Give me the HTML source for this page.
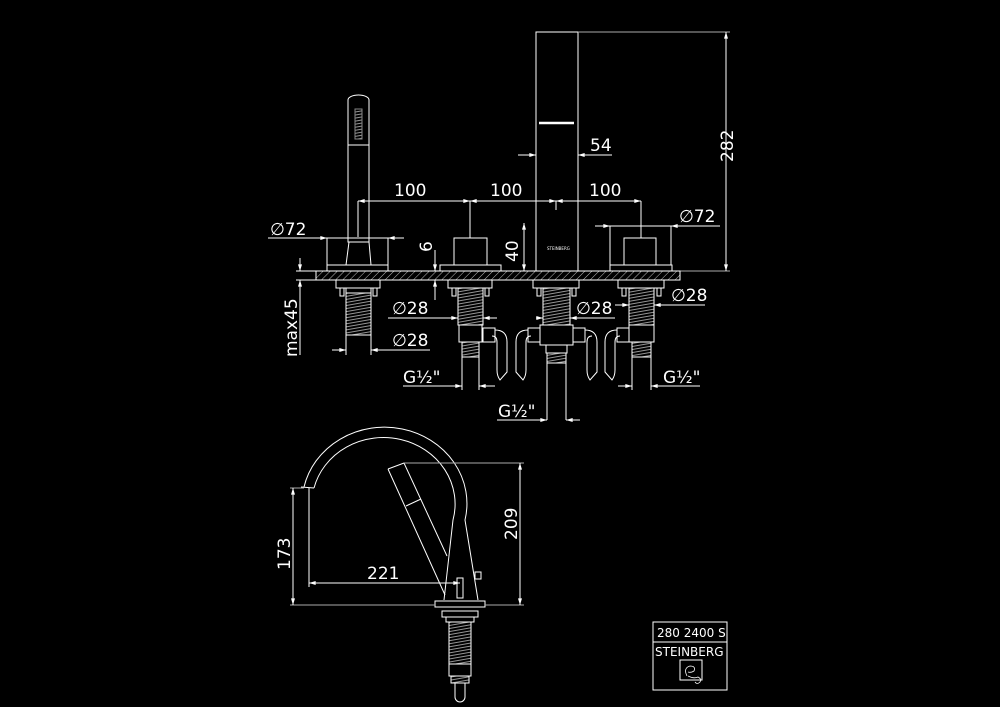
<!DOCTYPE html>
<html><head><meta charset="utf-8"><style>
html,body{margin:0;padding:0;background:#000;width:1000px;height:707px;overflow:hidden}
svg{display:block}
text{font-family:"DejaVu Sans","Liberation Sans",sans-serif;fill:#fff;font-size:17px}
</style></head><body>
<svg width="1000" height="707" viewBox="0 0 1000 707" xmlns="http://www.w3.org/2000/svg">
<defs>
<pattern id="h" width="5" height="5" patternUnits="userSpaceOnUse" patternTransform="rotate(45)"><line x1="0" y1="0" x2="0" y2="5" stroke="#bbb" stroke-width="1"/></pattern>
<pattern id="t" width="4" height="3" patternUnits="userSpaceOnUse" patternTransform="rotate(-10)"><line x1="0" y1="1" x2="4" y2="1" stroke="#bbb" stroke-width="0.8"/></pattern>
<marker id="a" viewBox="0 0 10 6" refX="10" refY="3" markerWidth="7" markerHeight="4" orient="auto-start-reverse"><path d="M0,0L10,3L0,6z" fill="#fff"/></marker>
</defs>
<g stroke="#fff" stroke-width="1" fill="none">
<!-- spout -->
<rect x="536" y="32" width="42" height="239"/>
<line x1="539" y1="123" x2="574" y2="123" stroke-width="2.5"/>
<line x1="578" y1="32" x2="730" y2="32" stroke="#aaa"/>
<line x1="680" y1="271" x2="730" y2="271" stroke="#aaa"/>
<line x1="726" y1="32" x2="726" y2="271" marker-start="url(#a)" marker-end="url(#a)"/>
<line x1="518" y1="155" x2="536" y2="155" marker-end="url(#a)"/>
<line x1="598" y1="155" x2="578" y2="155" marker-end="url(#a)"/>
<line x1="578" y1="155" x2="612" y2="155"/>
<!-- deck -->
<rect x="316" y="271" width="364" height="9" fill="url(#h)"/>
<!-- hand shower -->
<path d="M348,100 A10.5,5 0 0 1 369,100 L369,242 L348,242 Z"/>
<line x1="348" y1="145" x2="369" y2="145"/>
<rect x="355" y="109" width="7" height="30" fill="url(#t)" stroke="#888"/>
<path d="M349,242 L346,265 M369,242 L371,265"/>
<rect x="327" y="265" width="61" height="6"/>
<!-- valves -->
<rect x="454" y="238" width="33" height="27"/><rect x="440" y="265" width="61" height="6"/>
<rect x="624" y="238" width="32" height="27"/><rect x="610" y="265" width="62" height="6"/>
<!-- dims 100 -->
<line x1="358" y1="201" x2="470" y2="201" marker-start="url(#a)" marker-end="url(#a)"/>
<line x1="470" y1="201" x2="556" y2="201" marker-start="url(#a)" marker-end="url(#a)"/>
<line x1="556" y1="201" x2="641" y2="201" marker-start="url(#a)" marker-end="url(#a)"/>
<line x1="358" y1="201" x2="358" y2="237"/><line x1="470" y1="201" x2="470" y2="238"/>
<line x1="556" y1="201" x2="556" y2="210"/><line x1="641" y1="201" x2="641" y2="238"/>
<!-- Ø72 -->
<line x1="268" y1="238" x2="404" y2="238"/>
<line x1="312" y1="238" x2="327" y2="238" marker-end="url(#a)"/><line x1="404" y1="238" x2="388" y2="238" marker-end="url(#a)"/>
<line x1="327" y1="238" x2="327" y2="265"/><line x1="388" y1="238" x2="388" y2="265"/>
<line x1="595" y1="226" x2="720" y2="226"/>
<line x1="595" y1="226" x2="610" y2="226" marker-end="url(#a)"/><line x1="686" y1="226" x2="671" y2="226" marker-end="url(#a)"/>
<line x1="610" y1="226" x2="610" y2="265"/><line x1="671" y1="226" x2="671" y2="265"/>
<!-- 6 / 40 / max45 -->
<line x1="435" y1="250" x2="435" y2="271" marker-end="url(#a)"/><line x1="435" y1="300" x2="435" y2="280" marker-end="url(#a)"/>
<line x1="524" y1="223" x2="524" y2="271" marker-start="url(#a)" marker-end="url(#a)"/>
<line x1="300" y1="258" x2="300" y2="271" marker-end="url(#a)"/><line x1="300" y1="280" x2="300" y2="355" marker-start="url(#a)"/>
<line x1="296" y1="271" x2="316" y2="271"/><line x1="296" y1="280" x2="316" y2="280"/>
<!-- fittings -->
<g>
<rect x="336" y="280" width="44" height="8"/><rect x="346" y="288" width="25" height="5"/>
<rect x="346" y="293" width="25" height="42" fill="url(#t)"/>
<rect x="340" y="288" width="4" height="8"/><rect x="373" y="288" width="4" height="8"/>
<line x1="346" y1="335" x2="346" y2="355"/><line x1="371" y1="335" x2="371" y2="355"/>
</g>
<g>
<rect x="448" y="280" width="44" height="8"/><rect x="452" y="288" width="4" height="8"/><rect x="485" y="288" width="4" height="8"/>
<rect x="458" y="288" width="25" height="37" fill="url(#t)"/>
<rect x="459" y="325" width="23" height="17"/><rect x="462" y="342" width="17" height="15" fill="url(#t)"/>
<line x1="462" y1="357" x2="462" y2="390"/><line x1="479" y1="357" x2="479" y2="390"/>
<rect x="483" y="328" width="12" height="14"/>
<path d="M495,330 q12,0 12,12 v30 l-7,8 q-3,-4 -3,-10 v-28 q0,-6 -5,-6"/>
</g>
<g>
<rect x="533" y="280" width="46" height="8"/><rect x="537" y="288" width="4" height="8"/><rect x="572" y="288" width="4" height="8"/>
<rect x="543" y="288" width="27" height="37" fill="url(#t)"/>
<rect x="540" y="325" width="33" height="20"/><rect x="546" y="345" width="21" height="8"/><rect x="547" y="353" width="19" height="10" fill="url(#t)"/>
<line x1="547" y1="363" x2="547" y2="420"/><line x1="566" y1="363" x2="566" y2="420"/>
<rect x="528" y="328" width="12" height="14"/><rect x="573" y="328" width="12" height="14"/>
<path d="M528,330 q-12,0 -12,12 v30 l7,8 q3,-4 3,-10 v-28 q0,-6 5,-6"/>
<path d="M585,330 q12,0 12,12 v30 l-7,8 q-3,-4 -3,-10 v-28 q0,-6 5,-6"/>
</g>
<g>
<rect x="618" y="280" width="46" height="8"/><rect x="622" y="288" width="4" height="8"/><rect x="657" y="288" width="4" height="8"/>
<rect x="629" y="288" width="25" height="37" fill="url(#t)"/>
<rect x="629" y="325" width="25" height="17"/><rect x="632" y="342" width="19" height="15" fill="url(#t)"/>
<line x1="632" y1="357" x2="632" y2="390"/><line x1="651" y1="357" x2="651" y2="390"/>
<rect x="617" y="328" width="12" height="14"/>
<path d="M617,330 q-12,0 -12,12 v30 l7,8 q3,-4 3,-10 v-28 q0,-6 5,-6"/>
</g>
<!-- Ø28 dims -->
<line x1="388" y1="318" x2="458" y2="318" marker-end="url(#a)"/><line x1="497" y1="318" x2="483" y2="318" marker-end="url(#a)"/>
<line x1="332" y1="350" x2="346" y2="350" marker-end="url(#a)"/><line x1="430" y1="350" x2="371" y2="350" marker-end="url(#a)"/>
<line x1="536" y1="318" x2="543" y2="318" marker-end="url(#a)"/><line x1="615" y1="318" x2="570" y2="318" marker-end="url(#a)"/>
<line x1="615" y1="305" x2="629" y2="305" marker-end="url(#a)"/><line x1="705" y1="305" x2="654" y2="305" marker-end="url(#a)"/>
<!-- G1/2 dims -->
<line x1="403" y1="386" x2="462" y2="386" marker-end="url(#a)"/><line x1="495" y1="386" x2="479" y2="386" marker-end="url(#a)"/>
<line x1="618" y1="386" x2="632" y2="386" marker-end="url(#a)"/><line x1="700" y1="386" x2="651" y2="386" marker-end="url(#a)"/>
<line x1="497" y1="420" x2="547" y2="420" marker-end="url(#a)"/><line x1="580" y1="420" x2="566" y2="420" marker-end="url(#a)"/>
<!-- side view -->
<path d="M304,487 A81,75 0 0 1 465,520 L478,600"/>
<path d="M314,488 A70,65 0 0 1 453,520 L444,600"/>
<line x1="301" y1="487" x2="314" y2="488"/>
<path d="M388,469 L404,463 L447,556 M388,469 L445,595"/>
<line x1="406" y1="506" x2="421" y2="499"/>
<rect x="475" y="572" width="6" height="7"/>
<rect x="457" y="578" width="6" height="20"/>
<rect x="435" y="601" width="50" height="6"/>
<rect x="442" y="611" width="36" height="6"/><rect x="446" y="617" width="28" height="5"/>
<rect x="449" y="622" width="22" height="42" fill="url(#t)"/>
<rect x="449" y="664" width="22" height="12"/><rect x="451" y="676" width="18" height="7" fill="url(#t)"/>
<path d="M455,683 v14 a5,5 0 0 0 10,0 v-14"/>
<line x1="404" y1="463" x2="524" y2="463" stroke="#aaa"/>
<line x1="485" y1="605" x2="524" y2="605" stroke="#aaa"/>
<line x1="520" y1="463" x2="520" y2="605" marker-start="url(#a)" marker-end="url(#a)"/>
<line x1="290" y1="605" x2="435" y2="605" stroke="#aaa"/>
<line x1="290" y1="488" x2="304" y2="488" stroke="#aaa"/>
<line x1="293" y1="488" x2="293" y2="605" marker-start="url(#a)" marker-end="url(#a)"/>
<line x1="309" y1="488" x2="309" y2="587"/>
<line x1="309" y1="583" x2="460" y2="583" marker-start="url(#a)" marker-end="url(#a)"/>
<!-- logo -->
<rect x="653" y="622" width="74" height="68"/>
<line x1="653" y1="642" x2="727" y2="642"/>
<rect x="680" y="660" width="22" height="20"/>
<path d="M687,676 q-4,-8 3,-10 q6,0 4,5 q-3,2 -6,1 m0,4 q6,3 10,1 q4,2 2,5 q-3,3 -5,0" stroke-width="0.8"/>
</g>
<text x="590" y="151">54</text>
<text transform="translate(733,162) rotate(-90)">282</text>
<text x="394" y="196">100</text>
<text x="490" y="196">100</text>
<text x="589" y="196">100</text>
<text x="270" y="235">∅72</text>
<text x="679" y="222">∅72</text>
<text transform="translate(432,252) rotate(-90)">6</text>
<text transform="translate(518,262) rotate(-90)">40</text>
<text transform="translate(297,357) rotate(-90)">max45</text>
<text x="392" y="314">∅28</text>
<text x="392" y="346">∅28</text>
<text x="576" y="314">∅28</text>
<text x="671" y="301">∅28</text>
<text x="403" y="383">G½"</text>
<text x="663" y="383">G½"</text>
<text x="498" y="417">G½"</text>
<text transform="translate(290,570) rotate(-90)">173</text>
<text transform="translate(517,540) rotate(-90)">209</text>
<text x="367" y="579">221</text>
<text x="657" y="637" style="font-size:12px">280 2400 S</text>
<text x="655" y="656" style="font-size:12px">STEINBERG</text>
<text x="547" y="250" style="font-size:4px">STEINBERG</text>
</svg>
</body></html>
